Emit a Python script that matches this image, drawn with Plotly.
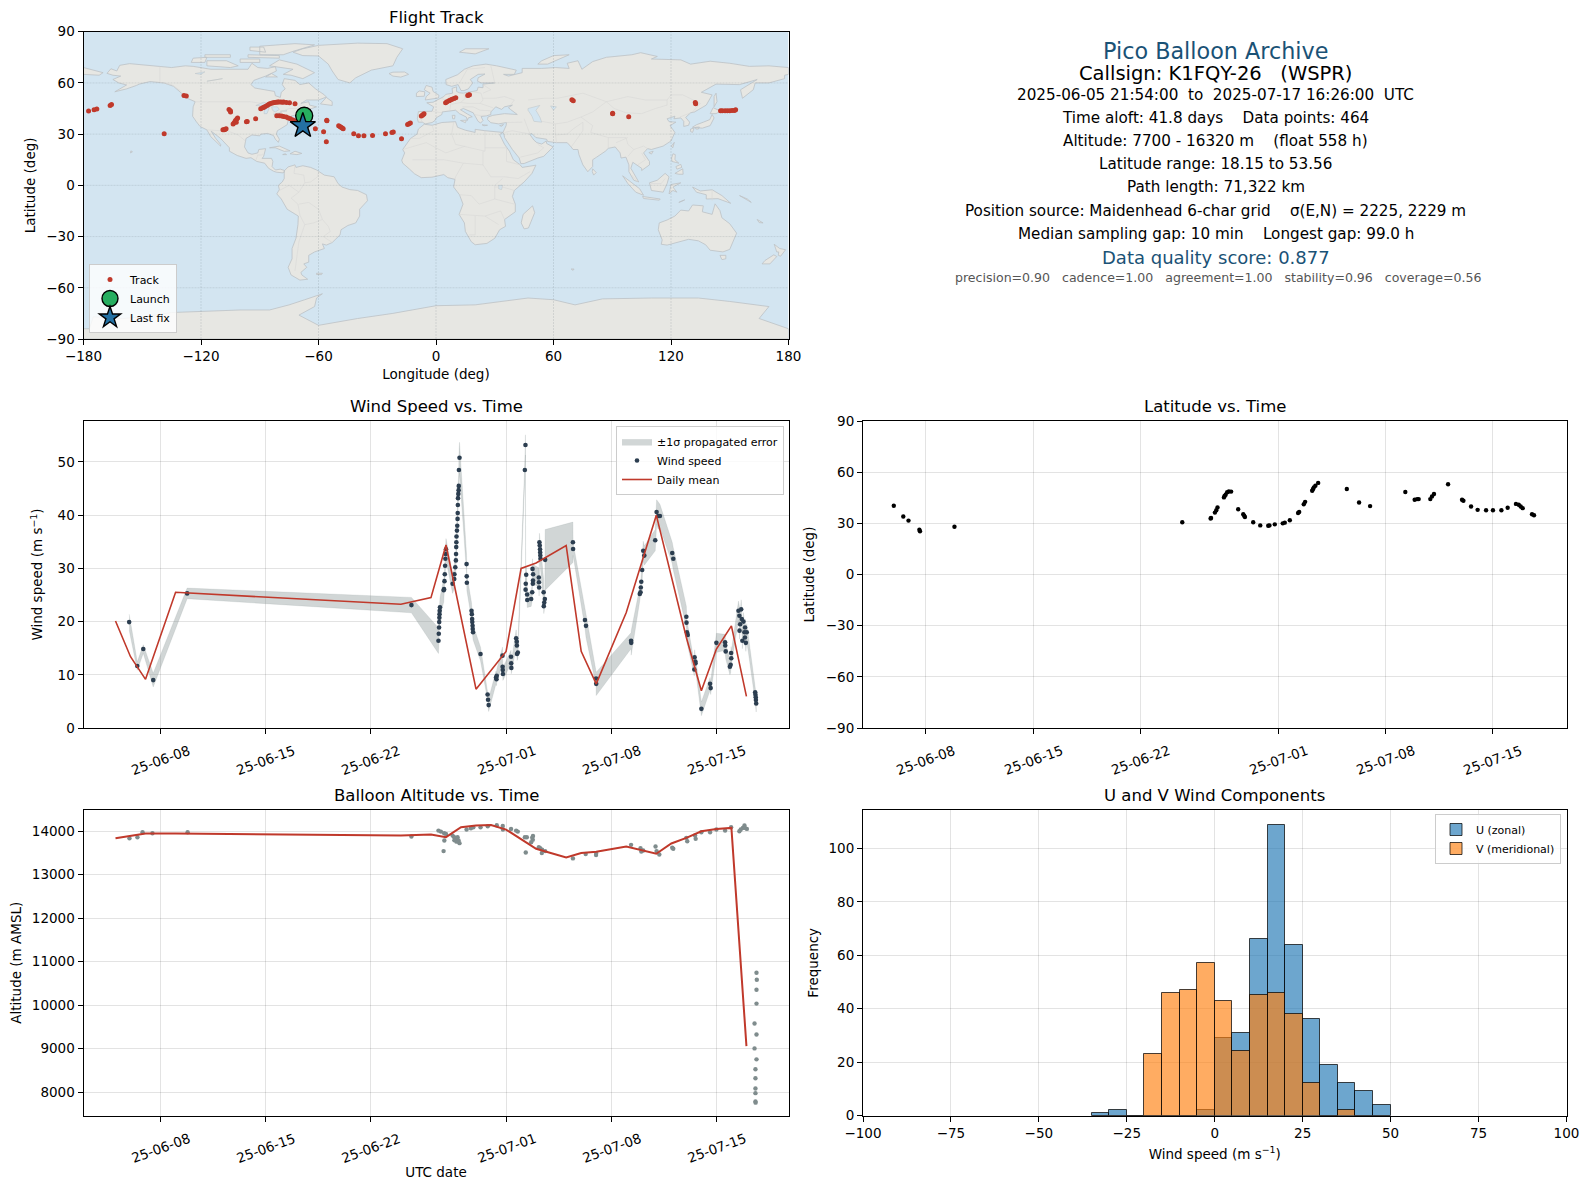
import numpy as np
import pandas as pd
import plotly.graph_objects as go

W, H = 1590, 1189
FONT = "DejaVu Sans"
RED = "#c0392b"
NAVY = "#2c3e50"
GREY = "#7f8c8d"
GRID = "rgba(0,0,0,0.11)"
OCEAN = "#d3e5f1"

# ---------- Map geography (lon, lat outlines) ----------
land_polys = [
 # North America
 [(-168,65.6),(-166,68.3),(-163,67),(-161.5,70.3),(-156.5,71.3),(-150,70.5),(-141,69.7),(-135,69),(-128,70),(-124,69.7),(-115,68),(-108,68),(-101,68),(-96,68),(-94,71.5),(-91,69),(-86,68.5),(-82,69.5),(-81.5,67),(-87,64),(-93,61.5),(-94.5,59),(-92.5,57),(-87,56),(-82.5,55),(-82,52.5),(-79.5,51.5),(-79,54.5),(-77,56.5),(-78.5,59),(-77.5,62.5),(-72,61.5),(-69.5,59),(-65,60),(-61.5,56.5),(-57,53),(-56,51.7),(-60,50),(-66,50),(-69,48),(-65,49),(-64.5,47),(-61,46),(-66,44),(-67,45),(-70.5,43),(-70,41.6),(-74,40.6),(-75.5,38),(-76,35.5),(-78,34),(-81,32),(-81.5,30),(-80,27),(-80.5,25.2),(-82,27),(-83,29.2),(-86,30.4),(-89.5,30),(-90,29),(-94,29.5),(-97,27.5),(-97.8,22.5),(-96,19),(-94,18.2),(-91,19),(-90.5,21),(-87,21.5),(-88,17),(-88.8,15.8),(-84,15.8),(-83.3,14),(-83.7,11),(-82,9),(-79.5,9.5),(-77.3,8.7),(-78,7.3),(-80,7.5),(-81.5,7.7),(-83,8.3),(-85.5,10),(-87.5,13),(-91.5,14),(-94.5,16.2),(-97,15.8),(-101.5,17.5),(-105.5,20),(-105.5,22),(-108,25),(-110,27.5),(-112.8,30),(-114.8,31.7),(-112.5,27.5),(-110,24),(-110,23),(-112,25),(-115,28.5),(-117,32.5),(-120.5,34.5),(-122.5,37.5),(-124.3,40.5),(-124,46),(-123,49),(-127,51),(-130.5,54.5),(-134,58),(-139,60),(-146,60.8),(-151.5,59.3),(-153,58.5),(-158,56.5),(-164,54.8),(-158,58.8),(-162,60),(-165,62),(-161,64),(-165,64.5),(-168,65.6)],
 # Arctic Canada
 [(-62,66),(-68,62.5),(-74,64.5),(-78,65),(-73,68),(-85,70),(-80,73.5),(-71,71)],
 [(-117,70),(-105,69),(-101,70),(-107,73),(-117,73)],
 [(-90,76.5),(-78,76.5),(-73,78.5),(-62,82.3),(-72,83),(-90,81.5)],
 [(-125,72),(-118,72),(-117,75),(-124,74.5)],
 [(-96,75),(-80,74.5),(-80,76),(-96,76.5)],
 [(-100,72),(-90,72),(-90,74),(-100,74)],
 [(-118,75),(-105,75),(-105,76.5),(-118,76.5)],
 [(-95,79),(-87,78),(-88,81),(-95,81)],
 [(-59,47.7),(-53,46.8),(-53,49),(-56,51.5)],
 [(-87,63.5),(-81,63.5),(-84,65.5)],
 # Greenland, Iceland
 [(-73,78),(-68,76),(-60,75.8),(-55,71),(-53,67),(-50,62),(-44,60),(-41,63),(-33,67.5),(-22,70),(-20,75),(-17,80),(-25,83),(-40,83.3),(-60,82),(-68,80)],
 [(-24,65.5),(-22,64),(-18,63.4),(-14,65),(-16,66.4),(-22,66.3)],
 # Caribbean, Hawaii
 [(-85,22),(-80,23),(-74.5,20.2),(-77.5,19.9),(-82,22)],
 [(-74.5,18.5),(-72,20),(-68.5,18.7),(-71,18)],
 [(-78.3,18),(-76.3,18),(-77,18.5)],
 [(-156,19),(-155,19.7),(-155.8,20.2)],
 # South America
 [(-77.3,8.7),(-75.5,10.8),(-72,12),(-71.5,10.5),(-68,11.5),(-64,10.5),(-61,9),(-57,6),(-52,5),(-50,1),(-48,-1),(-44,-2.5),(-40,-3),(-35.5,-5.5),(-35,-9),(-39,-14),(-39,-18),(-41,-22),(-45,-23.5),(-48.5,-26),(-49,-29),(-53,-33.5),(-56,-35),(-58,-34.3),(-57,-37),(-62,-39),(-65,-41),(-65,-45),(-67.5,-46),(-66,-48),(-69,-51),(-68.5,-52.5),(-65.5,-55),(-69.5,-55.5),(-74,-52.5),(-75.5,-48),(-73.5,-43),(-73.5,-37),(-71.5,-31),(-70.5,-23),(-70.3,-18),(-76,-14),(-79,-8),(-81.3,-5),(-80,-2.5),(-80.5,0),(-78.5,2),(-77.5,4),(-77.5,7)],
 [(-61,-51.5),(-58,-51.5),(-58.5,-52.3),(-61,-52.2)],
 # Africa, Madagascar
 [(-6,35.8),(-2,35.2),(3,36.8),(10,37.3),(11,34),(15,32.3),(20,31),(20,32.8),(25,32),(32,31.2),(34.2,31),(32.5,29.8),(35,24),(37.5,20),(39.5,15),(43,12),(44,10.5),(51,11.8),(49,7),(45,2),(40,-3),(39,-6.5),(40.5,-11),(40.5,-15.5),(35,-20),(35.5,-24),(32.5,-26),(30,-31),(26,-34),(20,-34.8),(18,-33),(15,-27),(14.5,-22),(11.8,-17),(13.8,-11),(12,-5.5),(9,-1),(9.7,3.5),(6,4.5),(4,6.3),(-2,4.8),(-7.5,4.5),(-11,6.8),(-13.5,9.5),(-17,13),(-17.5,14.7),(-16,19),(-17,21),(-13,27.5),(-9.7,30),(-9,33)],
 [(49.3,-12),(50.4,-16),(47.2,-25),(45,-25.5),(43.5,-22),(44.5,-17)],
 # Eurasia
 [(-9,37),(-9.5,39),(-9,43.2),(-2,43.4),(-1.2,46),(-4.7,48.4),(-1.5,48.7),(1.5,50.5),(4,52),(5,53.3),(8.5,54),(8.2,56.8),(10.5,57.7),(10.5,55),(12,54.2),(14,54),(18.5,54.8),(21,55.5),(21.5,57.5),(24,57.2),(24,59.3),(30,60),(23,60),(21.2,61),(21.5,63),(25,65.2),(21.5,65),(17.5,62),(18.8,60),(16.5,56.5),(14.3,55.5),(12.8,55.5),(11.3,59),(8,58),(5.2,59),(5,62),(11,64.8),(14.5,68),(19,70),(25.5,71),(31,70),(41,67.5),(40,65),(34.5,65),(37,64),(44,66),(44,68.5),(54,68.5),(61,69),(68,68.5),(67,71.5),(72.5,73),(74.5,68),(80,72.5),(87,75),(100,76.5),(104.5,77.7),(113,75.5),(110,74),(125,73.5),(130,71),(140,72.7),(150,71.5),(160,69.7),(170,70),(180,69),(180,65),(178,64.5),(178,62.5),(170,60),(163,60),(162,56),(156.5,51),(155.5,56),(164,62),(155,59),(143,59.3),(135.5,54.5),(141,53),(138,47),(132,43),(130,42.5),(127.5,39.8),(129.5,37),(129,35.2),(126.5,34.5),(126.5,37.5),(125,39.5),(121.5,39),(122,40.5),(118,39),(119,37.3),(122.5,37),(119.5,35),(122,31),(120,26),(116,23),(110,21),(108,21.5),(106,19),(109,14),(109,12),(105,8.7),(105,10),(100.5,13.5),(99.5,10),(103.5,2),(101,3),(98.5,8),(98.5,12),(97,16.5),(94.5,16),(94,19),(91.5,22.5),(88,21.7),(86.5,20),(82,16.5),(80,15),(80,11),(77.5,8),(75,12),(73,18),(72.5,21),(70,21),(69,22.5),(67,25),(61.5,25),(57,25.7),(56.5,27),(51,28),(49,30.3),(47.8,30),(50,26.5),(51.5,25),(54,24.2),(56.3,26),(56.5,24.5),(59.8,22.5),(55,17),(52,16),(45,12.8),(43.3,12.7),(42.5,16),(39,21),(35,28),(34.8,29.5),(34.2,31),(35.8,35),(36,36.8),(32,36),(28,36.7),(26.3,38.5),(26.5,40),(29,41),(35,42),(41.5,41.5),(38,44.5),(37,45.5),(39,47),(35,46),(33.5,44.5),(30.5,46),(28,43),(28,41.5),(26,40.8),(23,40.3),(24,38),(22.8,36.5),(21.5,37.5),(19.5,41),(19,42.5),(14,45),(12.5,44.3),(16,41.8),(18.5,40.2),(16.5,39.5),(16,38),(15.5,40),(12,42),(10,44),(7,43.7),(3.2,43),(3,41.5),(0,39.5),(-0.5,38),(-2,36.8),(-5.5,36),(-7,37)],
 [(-180,69),(-170,66),(-172,64.5),(-180,65)],
 [(-5.5,50),(1.3,51.2),(1.5,52.8),(-1.5,55),(-2,57.5),(-5,58.5),(-6,56),(-3,54),(-5,52)],
 [(-10,52),(-6,52.2),(-5.7,54.8),(-8.5,55.3),(-10,54)],
 [(12,78),(20,77),(27,80),(15,80)],
 [(52,71),(57,71),(68,76.5),(60,76),(54,73)],
 [(12.5,38),(15.5,38.2),(15,36.7)],
 [(8.3,41),(9.7,41),(9.5,39),(8.5,39)],
 [(23.5,35.5),(26.3,35.2),(24.5,34.9)],
 [(32.5,35),(34.5,35.6),(33.5,34.6)],
 # Asia islands
 [(130.9,34),(136,33.5),(140,35),(142,39.5),(141,41.5),(139.8,38.5),(136.5,37),(133,35.5)],
 [(130,33),(131.8,33.5),(131,31),(130,31.5)],
 [(132.5,34),(134.5,34.2),(134,33),(132.7,33)],
 [(140,42),(141.5,45.5),(145.3,43.5),(143,42)],
 [(142,46),(143.5,49),(143,54),(142,52)],
 [(120.2,23),(121.7,25.2),(120.9,22)],
 [(108.7,19.2),(110.9,20),(110,18.3)],
 [(80,9.7),(81.8,7.5),(80.5,6),(79.8,8)],
 [(120.3,16),(121,18.5),(122.2,18),(122,15),(124,13),(120.5,14)],
 [(122,7),(126,9.7),(126.2,6.5),(124,6.5)],
 [(122.5,11),(125,12.3),(125.5,10.5),(123,9.5)],
 [(95.3,5.6),(104,-2),(106,-5.8),(102,-4),(98,1)],
 [(105.5,-6.5),(114.5,-8),(114,-8.7),(106,-7.7)],
 [(109,1.5),(113,3),(117,7),(119,5),(118,1),(116,-4),(110,-3)],
 [(119,-5),(120,0.5),(125,1.5),(121,-1),(123,-4),(121,-3)],
 [(131,-1),(135,-3.3),(141,-2.6),(146,-6),(150.5,-10.5),(144,-7.8),(138,-8),(138,-5.5),(133,-4)],
 [(124,-10),(127,-8.5),(125,-9.8)],
 [(155,-6),(157,-7.5),(161,-10),(159,-8)],
 # Oceania
 [(114,-22),(113.5,-26),(115.5,-32),(115,-34.5),(118,-35),(124,-33),(129,-31.6),(134,-32.5),(137.7,-34.8),(140,-38),(146.5,-39),(150,-37.5),(153.5,-28),(150,-22.5),(146,-19),(145,-14.8),(142.5,-10.8),(141,-17),(136,-15.5),(136.5,-12),(131,-11.5),(129,-15),(125,-14.5),(122,-18),(118,-20.3)],
 [(145,-41),(148,-41),(148,-43),(146,-43.5)],
 [(172.7,-34.5),(175.5,-37),(178.5,-37.7),(176,-41.5),(174.8,-41),(175,-39),(174,-39)],
 [(172.5,-40.7),(174,-41.7),(170.5,-46),(166.5,-46),(168,-44)],
 [(164,-20),(167,-22),(165,-21.8)],
 [(69,-49),(70.5,-49),(70,-49.8)],
 # Antarctica
 [(-180,-90),(-180,-84),(-177,-84),(-175,-77),(-160,-78),(-150,-77),(-135,-74.5),(-120,-73.8),(-100,-73),(-85,-73),(-75,-70),(-67,-67),(-58,-63.5),(-61,-66),(-62,-71),(-70,-76),(-60,-82),(-40,-78),(-22,-75),(0,-70.5),(20,-70),(47,-66),(60,-67),(71,-70),(85,-66.5),(110,-66),(134,-66),(150,-68),(170,-71),(165,-78),(180,-84),(180,-90)],
]
lake_polys = [
 [(47,45),(53,46.8),(51,44),(53,40),(54,37),(50,37.5),(49,40.5),(47,44)],
 [(-92,46.8),(-88,48.7),(-85,47.5),(-85,46.5),(-90,46.6)],
 [(-87.8,42),(-86.3,42),(-85,45.8),(-87.5,45.5)],
 [(-84,46),(-81,46),(-80,44.5),(-82,43),(-83.5,44)],
 [(-83,41.7),(-79,42.8),(-79,42.4),(-82,41.4)],
 [(-79.5,43.4),(-76.3,44),(-76.3,43.4)],
 [(32,0),(34,0),(33.5,-2.5),(32,-2)],
 [(58.5,46.5),(61.5,46),(60,44)],
 [(-120,65),(-118,66.5),(-123,65.5)],
 [(-117,61),(-109,62.5),(-112,62)],
]
border_lines = [
 [(-123,49),(-95,49),(-89,48),(-84,46.5),(-82.5,42),(-79,43),(-75,45),(-71,45),(-69,47.3),(-67.5,45.5)],
 [(-141,69.7),(-141,60.3),(-135,59),(-130,55)],
 [(-117,32.5),(-108,31.5),(-106,31.7),(-101,29.5),(-97.3,26)],
 [(-92,14.7),(-91,17.8),(-89,17.8),(-88.3,18.5)],
 [(-72,12),(-72.5,7),(-67.5,6),(-67,1.5),(-70,-4),(-74,-7.5),(-70.5,-11),(-69.5,-17.5),(-67,-23),(-70,-33),(-72,-50)],
 [(-60,8),(-60.5,5),(-64,2),(-67,1.5)],
 [(-70,-11),(-65,-10),(-60,-14),(-58,-20),(-55,-24),(-54,-27),(-57.5,-30),(-53,-33.5)],
 [(-58,-20),(-62.5,-22),(-67,-23)],[(-80,-3),(-75,0),(-70,-4)],
 [(-2,35),(-1,32),(-8.5,27.5),(-13,27.5)],[(9,37),(8,30),(10,24),(12,23.5),(25,20),(25,32)],
 [(25,22),(36,22)],[(-17,21),(-5,25),(5,19),(15,23)],[(-12,15),(4,15),(14,13),(24,12),(24,20)],
 [(14,13),(10,5),(9.7,3.5)],[(24,12),(28,5),(35,5),(42,4),(48,8)],[(36,22),(36,14),(43,12)],
 [(12,-5.5),(18,-6),(22,-11),(30,-8),(30,0),(34,4)],[(12,-17),(25,-18),(33,-15),(35,-20)],[(20,-18),(20,-29),(17,-29)],[(25,-18),(32,-23)],
 [(40,-3),(34,-1),(30,-1)],[(30,-8),(40,-11)],
 [(-1.7,43.3),(3,42.5)],[(-9,42),(-7,37)],[(2.5,51),(8,49),(7.5,47.5),(7,43.8)],[(7,53.3),(6,50)],[(14,54),(15,51),(12.5,48.5),(8,47.5)],
 [(18.5,54.8),(23,54),(24,50),(22.5,48),(29,45.5)],[(12.5,48.5),(17,48),(22.5,48)],[(13.5,46),(19,46),(22.5,44),(28,43.7)],[(26,41),(22,41),(19.5,41.5)],
 [(28,70),(30,60)],[(12,60),(16,68),(25,69)],[(24,59),(28,56),(24,54)],[(30,51),(24,51)],[(40,50),(35,52),(30,51)],[(38,47),(40,50)],
 [(47,50),(55,51),(62,51),(75,54),(87,49)],[(87,49),(98,52),(107,50),(118,50),(120,53),(126,53),(135,48),(131,43)],[(87,49),(91,45),(97,42.5),(105,42),(112,45),(118,47),(118,50)],
 [(87,49),(80,43),(74,40),(67,37),(61,36),(54,37.5)],[(74,40),(80,35),(79,31),(88,28),(97,28),(98,24),(101,21),(106,23),(108,21.5)],[(61,36),(61,30),(61.5,25)],[(75,37),(70,33),(67,30),(61,29.5)],[(75,37),(75,32),(70,24),(69,22.5)],
 [(88,28),(88,22)],[(92,25),(98,28)],[(98,17),(100,20),(101,21)],[(100,6),(103,2)],[(103,12),(107,15),(105,19)],
 [(45,39),(48,30)],[(44,37),(42,37),(36,36.8)],[(48,30),(39,32),(35,31)],[(52,24),(55,22),(52,19),(45,17),(43,16.5)],[(124.5,40),(130,42.5)],
 [(141,-2.6),(141,-9)],[(109.5,1),(115,1),(117,4)],
]
track_lon = [-177.4,-174.6,-173.2,-166.4,-165.7,-138.8,-128.7,-127.5,-105.7,-105,-104.9,-108.8,-108.2,-107.8,-107.2,-103.6,-103,-102.4,-102,-101.7,-101.3,-96.8,-96.4,-92.1,
 -89.5,-88.5,-87.8,-87.2,-86.3,-85.5,-84.9,-84,-83.2,-82.5,-81.6,-80.8,-80.2,-79.2,-78.4,-77.8,-76.4,-74.8,-72,
 -81.3,-80,-78.8,-77.8,-76.5,-75.4,-74.3,-73,-71.5,-61.6,-57.4,-55.8,-55.7,-56,-49.7,-49.1,-48.5,-47.9,-47.4,-42,-39.6,-36.8,-32.4,-25.8,-22.5,-21.8,-17.6,-14.5,-13.8,-13.1,-7.5,-7,-6.5,-6.1,
 4.9,5.6,6.6,7.4,8.2,9.2,10.1,16.2,16.7,17.1,69.4,70.1,90.2,90.2,98.4,132.4,132.6,145.3,146.2,147.6,148.8,150,151.2,152.4,153]
track_lat = [43.5,44.3,44.7,46.8,47.4,30.2,52.7,52.3,44.5,43.7,42.9,32.5,32.6,32.7,33.2,36,36.8,38,37,38.8,39.4,37.2,37.4,39,
 44.9,45.4,45.8,46.2,46.8,47.3,47.8,48.1,48.4,48.6,48.7,48.8,48.8,48.8,48.7,48.8,48.5,48.4,47.8,
 40.8,40.8,40.6,40.4,40,39.5,39,38.3,37.6,33.1,31.4,38.2,37.8,25.5,34.9,34.5,34.1,33.6,33.1,30.2,29,29,29.2,30.2,30.9,31.2,27.3,35.7,36.1,36.5,40.6,41,41.5,41.9,
 48.4,48.9,49.5,50,50.5,50.9,51.3,52.7,52.9,53.1,50.1,49.5,42.3,41.9,40.2,48.6,47.8,43.7,43.7,43.7,43.7,43.7,43.8,43.9,44.3]
launch_lon, launch_lat = [-67.3], [40.8]
last_lon, last_lat = [-68.0], [34.9]

# ---------- Wind speed (day = days after 2025-06-01 00:00) ----------
wind_day = [4.91,5.45,5.85,6.51,8.77,23.7,
 25.5,25.52,25.54,25.55,25.56,25.57,25.58,25.6,
 25.85,25.87,25.9,25.92,25.94,25.96,25.98,26.0,
 26.44,26.55,26.56,26.62,26.66,26.67,26.68,26.69,26.7,26.73,26.75,26.77,26.78,26.79,26.8,26.82,26.84,26.85,26.86,26.9,
 27.37,27.38,27.39,27.7,27.72,27.74,27.75,27.77,27.78,27.8,28.3,28.77,28.8,28.84,
 29.33,29.36,29.38,29.76,29.77,29.78,29.79,30.33,30.34,30.35,30.67,30.71,30.72,30.78,30.73,
 31.25,31.29,31.34,31.31,31.3,31.4,31.41,31.67,31.74,31.78,31.79,31.8,31.76,
 32.18,32.19,32.2,32.22,32.24,32.26,32.27,32.28,32.29,32.6,32.5,32.58,32.54,32.51,
 34.45,34.46,35.25,35.32,35.99,36.0,38.32,38.33,39.0,38.97,38.95,38.9,39.06,39.13,39.2,39.93,40.02,40.13,40.24,41.06,41.13,
 42,42.01,42.04,42.09,42.55,42.6,42.61,42.53,43,43.58,43.62,44,44.58,44.59,44.62,44.98,44.99,44.95,44.9,
 45.47,45.65,45.53,45.69,45.8,45.58,45.91,45.54,45.87,46.02,45.73,45.9,45.96,46.58,46.6,46.62,46.63,46.65]
wind_speed = [19.9,11.65,14.85,9.0,25.3,23.1,
 16.4,17.7,18.9,19.9,20.7,21.4,22.05,22.7,
 25.9,26.1,27.6,28.9,30.5,31.8,32.7,33.6,
 27.1,28,28.9,30.2,31.5,32.7,34,34.9,36,37.1,38,39.3,40.4,41.9,43.2,44,44.7,45.5,48.5,50.8,
 30.8,28.5,27.3,22.05,21.4,20.5,19.9,19.2,18.6,18,13.9,6.3,5.3,4.3,
 9.5,9.15,9.8,13.6,11.5,10.9,10.15,13.4,12.15,11.3,16.85,16.2,15.5,14.2,13.9,
 48.5,53.2,28.8,27.1,26,25.1,24.06,24.25,25.5,27.1,27.7,28.9,29.9,
 28.3,27.4,26.4,34.9,34.3,33.6,33,32.4,31.8,31.6,25.5,24.25,23.6,22.9,
 34.9,33.65,20.3,19.2,9.3,8.3,16.4,16,27.5,26.4,25.5,25.2,29.7,33.3,32.4,35.3,40.6,39.85,39.85,32.9,31.8,
 20.9,19.8,18,17.5,13.3,12.5,12.15,11,3.6,8.3,7.5,16,16.1,15.5,14.4,14.1,13.1,11.9,11.5,
 22.05,22.3,21.1,20.5,20,19.5,18.9,18.3,18,18,16.4,17,16,6.7,6.27,5.76,5.26,4.6]
wind_sigma = [1.5,0.8,0.8,1.3,1.0,1.45,
 2.4,2.4,2.2,2,2,2,1.8,1.8,
 2.2,2.2,2,2,2,2,2,2,
 1.8,1.8,1.8,1.8,1.8,1.8,1.8,1.8,1.8,1.9,1.9,2,2,2,2,2.2,2.4,2.6,2.8,2.9,
 1.7,1.6,1.5,1.5,1.5,1.5,1.4,1.4,1.4,1.4,1.3,1,1,1.2,
 1.2,1.2,1.2,1.6,1.4,1.3,1.2,1.2,1.1,1.1,1.6,1.4,1.3,1.2,1.2,
 1.5,1.9,1.5,1.5,1.4,1.6,1.4,1.4,1.5,1.6,1.7,1.8,1.9,
 1.8,1.7,1.6,1.7,1.7,1.7,1.7,1.7,1.8,5.7,2.4,2,1.5,1.4,
 3.8,1.2,1.5,2.2,1.3,2.2,1.5,2.3,1.5,1.3,1.2,1.3,2,1.8,1.8,2,2.3,2.5,2.2,2,2.1,
 2,2,1.9,1.9,1.4,1.3,1.2,1.2,1.3,1.2,1.2,1.8,1.5,1.4,1.4,1.2,1.3,1.5,1.5,
 1.8,1.8,1.8,1.7,1.7,1.7,1.6,1.6,1.6,1.6,1.5,1.5,1.6,1.6,1.6,1.6,1.6,1.6]
wind_mean_day = [4,5,6,8,23,25,26,28,30,31,32,34,35,36,38,40,42,43,44,45,46]
wind_mean = [20.1,13.4,9.15,25.5,23.25,24.5,34.4,7.3,14.4,30,31,34.3,14.4,8.3,21.7,40,17,7,14.85,19.2,5.95]

# ---------- Latitude ----------
lat_day = [4.91,5.53,5.87,6.58,6.62,8.87,23.74,25.59,25.62,25.87,25.96,26.04,26.46,26.5,26.57,26.67,26.78,26.93,27.39,27.72,27.78,27.83,28.37,28.83,29.35,29.43,29.78,30.3,30.43,30.76,31.3,31.37,31.67,31.76,32.22,32.27,32.33,32.43,32.61,34.48,35.28,36,38.3,38.91,39.07,39.17,39.93,40.04,40.17,41.09,42,42.09,42.59,43.02,43.57,44.02,44.57,44.98,45.52,45.7,45.83,45.96,46.57,46.7]
lat_deg = [40.3,34,31.6,26.2,25.4,28,30.6,32.8,33.2,36.3,37.7,39.3,45.2,46,46.8,48.2,48.7,48.6,38.3,35.3,34.5,33.7,30.6,28.8,28.6,28.8,29.4,30,30.4,31.8,36.1,36.7,41.2,42.6,49.1,50,51.1,52.1,53.7,50.1,42.2,40.1,48.4,43.8,44.2,44.2,44.2,45.8,47.2,52.9,43.8,43.2,39.9,37.9,37.7,37.7,37.7,39.1,41.4,40.9,39.9,38.9,35.3,34.7]

# ---------- Altitude ----------
alt_day = [4.93,5.46,5.8,6.46,8.8,23.7,25.5,25.66,25.88,26,25.89,25.84,26.44,26.55,26.66,26.77,26.84,26.9,26.7,26.56,
 27.37,27.66,27.82,28.3,28.78,29.38,29.78,29.79,30.33,30.67,30.78,31.25,31.38,31.31,31.67,31.78,31.79,31.74,32.18,32.27,32.4,32.38,32.6,34.45,35.3,35.99,36,38.32,38.95,39,39.13,39.95,40.02,40.2,41.06,41.13,42,42.06,42.58,42.62,43,43.58,44,44.58,44.98,45.53,45.62,45.76,45.87,46.03,45.9,
 46.67,46.69,46.67,46.67,46.54,46.67,46.54,46.67,46.6,46.6,46.6,46.6,46.6,46.61]
alt_m = [13837,13860,13977,13953,13977,13878,14015,13992,13954,13939,13787,13543,13900,13863,13825,13863,13787,13726,13760,13790,
 14038,14069,14091,14091,14114,14137,14122,14038,14053,14015,13992,13863,13863,13512,13748,13802,13893,13850,13634,13611,13573,13497,13543,13375,13474,13451,13497,13687,13611,13535,13558,13649,13543,13466,13619,13596,13848,13771,13901,13825,13977,13977,14038,14015,14091,14000,14038,14076,14130,14053,14076,
 10745,10585,10357,10037,9579,9328,9008,8756,8527,8322,8085,7979,7788,7760]
alt_mean_day = [4,5,6,8,23,25,26,27,28,29,30,32,34,35,36,38,39,40,41,42,43,44,45,46]
alt_mean = [13840,13900,13950,13945,13900,13924,13863,14091,14130,14145,14038,13596,13398,13497,13527,13650,13573,13482,13718,13848,14000,14053,14076,9060]

# ---------- Histogram ----------
bin_left = [-35,-30,-25,-20,-15,-10,-5,0,5,10,15,20,25,30,35,40,45]
u_counts = [1,2,0,0,0,0,2,29,31,66,109,64,36,19,12,9,4]
v_counts = [0,0,0,23,46,47,57,43,24,45,46,38,12,0,2,0,0]

# ---------- Text ----------
date_ticks = ["2025-06-08","2025-06-15","2025-06-22","2025-07-01","2025-07-08","2025-07-15"]
date_labels = ["25-06-08","25-06-15","25-06-22","25-07-01","25-07-08","25-07-15"]
info_lines = [
 ("Pico Balloon Archive", 22.3, "#1a5276", 50.5),
 ("Callsign: K1FQY-26   (WSPR)", 19.5, "#000000", 72.3),
 ("2025-06-05 21:54:00  to  2025-07-17 16:26:00  UTC", 15.2, "#000000", 94),
 ("Time aloft: 41.8 days    Data points: 464", 15.2, "#000000", 116.3),
 ("Altitude: 7700 - 16320 m    (float 558 h)", 15.2, "#000000", 139.3),
 ("Latitude range: 18.15 to 53.56", 15.2, "#000000", 161.8),
 ("Path length: 71,322 km", 15.2, "#000000", 184.3),
 ("Position source: Maidenhead 6-char grid    σ(E,N) = 2225, 2229 m", 15.2, "#000000", 208),
 ("Median sampling gap: 10 min    Longest gap: 99.0 h", 15.2, "#000000", 230.3),
 ("Data quality score: 0.877", 18, "#1a5276", 254),
 ("precision=0.90   cadence=1.00   agreement=1.00   stability=0.96   coverage=0.56", 12.55, "#555555", 273.3),
]

# ---------- Helpers ----------
def days_to_dates(days):
    stamps = pd.Timestamp("2025-06-01") + pd.to_timedelta(np.asarray(days, dtype=float), unit="D")
    return stamps.strftime("%Y-%m-%dT%H:%M:%S").tolist()

def flatten(polys, close=True):
    xs, ys = [], []
    for p in polys:
        pts = list(p) + ([p[0]] if close else [])
        xs += [a for a, _ in pts] + [None]
        ys += [b for _, b in pts] + [None]
    return xs, ys

def py(px):
    return 1 - px / H

def px_x(px):
    return px / W

L1, R1, L2, R2 = 83.5, 788.5, 863, 1566.5
ROW = [(31.7, 339), (421, 728), (810, 1115.5)]

fig = go.Figure()

# Map
lx, ly = flatten(land_polys)
fig.add_trace(go.Scatter(x=lx, y=ly, mode="lines", fill="toself", fillcolor="#e7e7e3",
                         line=dict(color="#bcc2c5", width=0.8), hoverinfo="skip", showlegend=False, xaxis="x", yaxis="y"))
kx, ky = flatten(lake_polys)
fig.add_trace(go.Scatter(x=kx, y=ky, mode="lines", fill="toself", fillcolor=OCEAN,
                         line=dict(color="#bcc2c5", width=0.5), hoverinfo="skip", showlegend=False, xaxis="x", yaxis="y"))
bx, by = flatten(border_lines, close=False)
fig.add_trace(go.Scatter(x=bx, y=by, mode="lines", line=dict(color="#d8d9d6", width=0.6),
                         hoverinfo="skip", showlegend=False, xaxis="x", yaxis="y"))
grid_lon = [-120, -60, 0, 60, 120]
grid_lat = [-60, -30, 0, 30, 60]
gx = sum([[v, v, None] for v in grid_lon], []) + sum([[-180, 180, None] for _ in grid_lat], [])
gy = sum([[-90, 90, None] for _ in grid_lon], []) + sum([[v, v, None] for v in grid_lat], [])
fig.add_trace(go.Scatter(x=gx, y=gy, mode="lines", line=dict(color="rgba(90,100,110,0.2)", width=0.8, dash="2px,1px"),
                         hoverinfo="skip", showlegend=False, xaxis="x", yaxis="y"))
fig.add_trace(go.Scatter(x=track_lon, y=track_lat, mode="markers", name="Track", legend="legend",
                         marker=dict(color=RED, size=5), xaxis="x", yaxis="y"))
fig.add_trace(go.Scatter(x=launch_lon, y=launch_lat, mode="markers", name="Launch", legend="legend",
                         marker=dict(color="#27ae60", size=17, line=dict(color="black", width=1.4)), xaxis="x", yaxis="y"))
fig.add_trace(go.Scatter(x=last_lon, y=last_lat, mode="markers", name="Last fix", legend="legend",
                         marker=dict(color="#2471a3", size=19, symbol="star", line=dict(color="black", width=1.4)), xaxis="x", yaxis="y"))

# Wind
order = np.argsort(np.asarray(wind_day), kind="stable")
wd = np.asarray(wind_day)[order]
ws = np.asarray(wind_speed)[order]
sg = np.asarray(wind_sigma)[order]
wd_dates = days_to_dates(wd)
fig.add_trace(go.Scatter(x=wd_dates + wd_dates[::-1], y=(ws + sg).tolist() + (ws - sg).tolist()[::-1],
                         mode="lines", fill="toself", fillcolor="rgba(127,140,141,0.36)", line=dict(width=0.5, color="rgba(127,140,141,0.3)"),
                         name="±1σ propagated error", legend="legend2", hoverinfo="skip", xaxis="x2", yaxis="y2"))
fig.add_trace(go.Scatter(x=wd_dates, y=ws.tolist(), mode="markers", name="Wind speed", legend="legend2",
                         marker=dict(color=NAVY, size=4.6), xaxis="x2", yaxis="y2"))
fig.add_trace(go.Scatter(x=days_to_dates(wind_mean_day), y=wind_mean, mode="lines", name="Daily mean", legend="legend2",
                         line=dict(color=RED, width=1.6), xaxis="x2", yaxis="y2"))

# Latitude
fig.add_trace(go.Scatter(x=days_to_dates(lat_day), y=lat_deg, mode="markers", name="Latitude", showlegend=False,
                         marker=dict(color="black", size=4.4), xaxis="x3", yaxis="y3"))

# Altitude
fig.add_trace(go.Scatter(x=days_to_dates(alt_day), y=alt_m, mode="markers", name="Altitude", showlegend=False,
                         marker=dict(color=GREY, size=4.4), xaxis="x4", yaxis="y4"))
fig.add_trace(go.Scatter(x=days_to_dates(alt_mean_day), y=alt_mean, mode="lines", name="Daily mean alt", showlegend=False,
                         line=dict(color=RED, width=2), xaxis="x4", yaxis="y4"))

# Histogram
centers = [b + 2.5 for b in bin_left]
fig.add_trace(go.Bar(x=centers, y=u_counts, width=5, name="U (zonal)", legend="legend3",
                     marker=dict(color="rgba(31,119,180,0.65)", line=dict(color="rgba(0,0,0,0.72)", width=1)), xaxis="x5", yaxis="y5"))
fig.add_trace(go.Bar(x=centers, y=v_counts, width=5, name="V (meridional)", legend="legend3",
                     marker=dict(color="rgba(255,127,14,0.65)", line=dict(color="rgba(0,0,0,0.72)", width=1)), xaxis="x5", yaxis="y5"))

axis_common = dict(showline=True, linecolor="black", linewidth=1, mirror=True, ticks="outside", ticklen=5,
                   tickwidth=1, tickcolor="black", zeroline=False, gridcolor=GRID, gridwidth=1, automargin=False,
                   tickfont=dict(family=FONT, size=13.5, color="black"))
tf = dict(family=FONT, size=13.5, color="black")

date_axis = dict(axis_common, type="date", tickmode="array", tickvals=date_ticks, ticktext=date_labels, showticklabels=False)
wind_xrange = days_to_dates([1.87, 48.8])
lat_xrange = days_to_dates([2.9, 48.82])

layout = dict(
    width=W, height=H, margin=dict(l=0, r=0, t=0, b=0, autoexpand=False), paper_bgcolor="white", plot_bgcolor="white",
    font=dict(family=FONT, color="black"), barmode="overlay", bargap=0, hovermode=False,
    xaxis=dict(axis_common, domain=[px_x(L1), px_x(R1)], range=[-180, 180], tickmode="array",
               tickvals=[-180, -120, -60, 0, 60, 120, 180], anchor="y", showgrid=False,
               title=dict(text="Longitude (deg)", font=tf, standoff=6)),
    yaxis=dict(axis_common, domain=[py(ROW[0][1]), py(ROW[0][0])], range=[-90, 90], tickmode="array",
               tickvals=[-90, -60, -30, 0, 30, 60, 90], anchor="x", showgrid=False,
               title=dict(text="Latitude (deg)", font=tf, standoff=7)),
    xaxis2=dict(date_axis, domain=[px_x(L1), px_x(R1)], range=wind_xrange, anchor="y2"),
    yaxis2=dict(axis_common, domain=[py(ROW[1][1]), py(ROW[1][0])], range=[0, 57.7], tickmode="array",
                tickvals=[0, 10, 20, 30, 40, 50], anchor="x2",
                title=dict(text="Wind speed (m s<sup>−1</sup>)", font=tf, standoff=11)),
    xaxis3=dict(date_axis, domain=[px_x(L2), px_x(R2)], range=lat_xrange, anchor="y3"),
    yaxis3=dict(axis_common, domain=[py(ROW[1][1]), py(ROW[1][0])], range=[-90, 90], tickmode="array",
                tickvals=[-90, -60, -30, 0, 30, 60, 90], anchor="x3",
                title=dict(text="Latitude (deg)", font=tf, standoff=8)),
    xaxis4=dict(date_axis, domain=[px_x(L1), px_x(R1)], range=wind_xrange, anchor="y4",
                title=dict(text="UTC date", font=tf, standoff=47)),
    yaxis4=dict(axis_common, domain=[py(ROW[2][1]), py(ROW[2][0])], range=[7465, 14488], tickmode="array",
                tickvals=[8000, 9000, 10000, 11000, 12000, 13000, 14000], tickformat="d", anchor="x4",
                title=dict(text="Altitude (m AMSL)", font=tf, standoff=7)),
    xaxis5=dict(axis_common, domain=[px_x(L2), px_x(R2)], range=[-100, 100], tickmode="array",
                tickvals=[-100, -75, -50, -25, 0, 25, 50, 75, 100], anchor="y5",
                title=dict(text="Wind speed (m s<sup>−1</sup>)", font=tf, standoff=9)),
    yaxis5=dict(axis_common, domain=[py(ROW[2][1]), py(ROW[2][0])], range=[0, 114.45], tickmode="array",
                tickvals=[0, 20, 40, 60, 80, 100], anchor="x5",
                title=dict(text="Frequency", font=tf, standoff=6)),
    legend=dict(x=px_x(89), y=py(333), xanchor="left", yanchor="bottom", bgcolor="rgba(255,255,255,0.8)",
                bordercolor="#cccccc", borderwidth=1, font=dict(family=FONT, size=11), itemsizing="trace",
                tracegroupgap=0),
    legend2=dict(x=px_x(784), y=py(426), xanchor="right", yanchor="top", bgcolor="rgba(255,255,255,0.8)",
                 bordercolor="#cccccc", borderwidth=1, font=dict(family=FONT, size=11)),
    legend3=dict(x=px_x(1561), y=py(814), xanchor="right", yanchor="top", bgcolor="rgba(255,255,255,0.8)",
                 bordercolor="#cccccc", borderwidth=1, font=dict(family=FONT, size=11)),
    shapes=[dict(type="rect", xref="x", yref="y", x0=-180, x1=180, y0=-90, y1=90, fillcolor=OCEAN, line=dict(width=0), layer="below")],
)

ann = []
titles = [("Flight Track", (L1 + R1) / 2, 18), ("Wind Speed vs. Time", (L1 + R1) / 2, 406),
          ("Latitude vs. Time", (L2 + R2) / 2, 406), ("Balloon Altitude vs. Time", (L1 + R1) / 2, 796),
          ("U and V Wind Components", (L2 + R2) / 2, 796)]
for text, x, y in titles:
    ann.append(dict(text=text, x=px_x(x), y=py(y), xref="paper", yref="paper", showarrow=False,
                    xanchor="center", yanchor="middle", font=dict(family=FONT, size=16.5, color="black")))
for xa, bottom in [("x2", ROW[1][1]), ("x3", ROW[1][1]), ("x4", ROW[2][1])]:
    for d, label in zip(date_ticks, date_labels):
        ann.append(dict(text=label, x=d, y=py(bottom + 32), xref=xa, yref="paper", showarrow=False, textangle=-20,
                        xanchor="center", yanchor="middle", font=dict(family=FONT, size=13.5, color="black")))
for i, (text, size, color, y) in enumerate(info_lines):
    cx = 1218.5 if i == len(info_lines) - 1 else 1215.5
    ann.append(dict(text=text.replace("  ", "&nbsp;&nbsp;"), x=px_x(cx), y=py(y * 1.0153), xref="paper", yref="paper", showarrow=False,
                    xanchor="center", yanchor="middle", font=dict(family=FONT, size=size, color=color)))
layout["annotations"] = ann
fig.update_layout(**layout)
fig.write_html("out.html", config={"displayModeBar": False},
               post_script="document.body.style.margin='0';document.body.style.overflow='hidden';")
